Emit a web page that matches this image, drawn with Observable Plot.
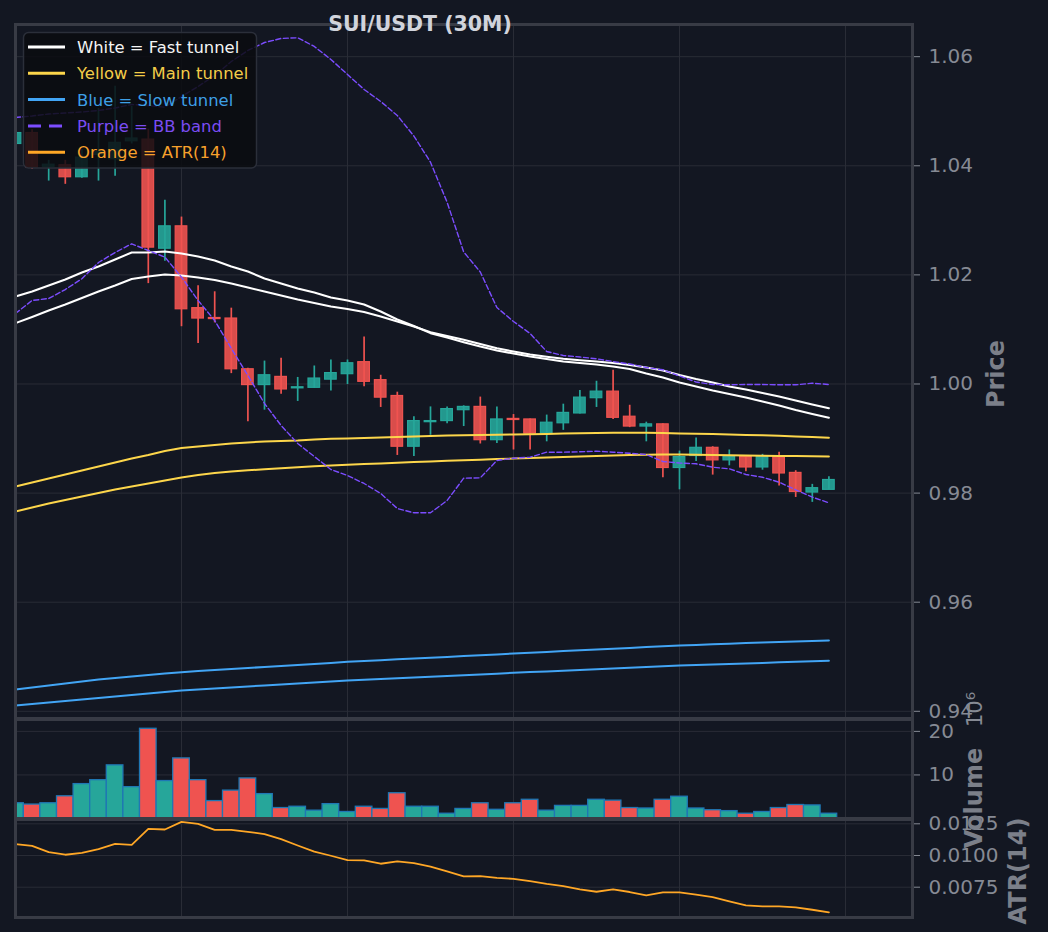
<!DOCTYPE html>
<html><head><meta charset="utf-8">
<script src="https://cdn.jsdelivr.net/npm/d3@7"></script>
<script src="https://cdn.jsdelivr.net/npm/@observablehq/plot@0.6"></script>
<style>
html,body{margin:0;padding:0;background:#131722;}
#chart{position:relative;width:1048px;height:932px;overflow:hidden;font-family:"DejaVu Sans",sans-serif;}
#chart svg{position:absolute;left:0;top:0;}
</style></head><body><div id="chart"></div>
<script>
// ---------- data ----------
const openP  = [1.0440,1.0460,1.0398,1.0401,1.0379,1.0420,1.0412,1.0445,1.0448,1.0248,1.0289,1.0139,1.0121,1.0120,1.0027,0.9998,1.0013,0.9992,0.9993,1.0008,1.0018,1.0040,1.0007,0.9978,0.9885,0.9930,0.9932,0.9952,0.9958,0.9897,0.9936,0.9935,0.9909,0.9928,0.9946,0.9974,0.9986,0.9940,0.9922,0.9926,0.9846,0.9868,0.9883,0.9860,0.9866,0.9847,0.9866,0.9837,0.9801,0.9806];
const highP  = [1.0465,1.0466,1.0410,1.0410,1.0430,1.0505,1.0546,1.0509,1.0467,1.0337,1.0306,1.0180,1.0169,1.0139,1.0029,1.0042,1.0047,1.0012,1.0033,1.0044,1.0044,1.0086,1.0016,0.9985,0.9940,0.9958,0.9958,0.9960,0.9976,0.9958,0.9944,0.9936,0.9943,0.9963,0.9988,1.0005,1.0025,0.9961,0.9930,0.9927,0.9877,0.9901,0.9885,0.9879,0.9867,0.9871,0.9875,0.9841,0.9816,0.9830];
const lowP   = [1.0436,1.0393,1.0372,1.0366,1.0377,1.0372,1.0381,1.0440,1.0184,1.0225,1.0105,1.0074,1.0112,1.0019,0.9931,0.9952,0.9981,0.9968,0.9992,0.9987,0.9999,0.9995,0.9957,0.9869,0.9867,0.9906,0.9927,0.9922,0.9890,0.9891,0.9879,0.9879,0.9894,0.9915,0.9945,0.9957,0.9935,0.9920,0.9894,0.9828,0.9806,0.9858,0.9833,0.9850,0.9839,0.9842,0.9813,0.9792,0.9783,0.9806];
const closeP = [1.0460,1.0397,1.0402,1.0379,1.0415,1.0425,1.0442,1.0450,1.0250,1.0289,1.0137,1.0120,1.0119,1.0027,0.9998,1.0016,0.9990,0.9994,1.0010,1.0020,1.0038,1.0004,0.9975,0.9885,0.9932,0.9932,0.9954,0.9958,0.9897,0.9935,0.9934,0.9909,0.9929,0.9947,0.9975,0.9986,0.9938,0.9922,0.9926,0.9846,0.9866,0.9883,0.9860,0.9867,0.9847,0.9866,0.9836,0.9802,0.9809,0.9824];
const volumeM = [3.5,3.2,3.5,5.1,7.9,8.8,12.2,7.2,20.6,8.6,13.8,8.8,4.0,6.4,9.2,5.6,2.4,2.7,1.8,3.3,1.5,2.7,2.2,5.8,2.7,2.7,1.1,2.2,3.5,2.0,3.5,4.3,1.8,2.9,2.9,4.3,4.1,2.4,2.3,4.3,5.0,2.3,1.9,1.7,1.1,1.5,2.4,3.1,3.0,1.1];
const atr14 = [0.01090,0.01076,0.01027,0.01006,0.01021,0.01050,0.01092,0.01084,0.01210,0.01205,0.01265,0.01250,0.01202,0.01202,0.01187,0.01169,0.01129,0.01079,0.01031,0.00998,0.00964,0.00961,0.00935,0.00953,0.00940,0.00913,0.00874,0.00835,0.00838,0.00824,0.00816,0.00798,0.00777,0.00759,0.00732,0.00714,0.00732,0.00712,0.00685,0.00709,0.00709,0.00691,0.00672,0.00638,0.00606,0.00598,0.00598,0.00591,0.00572,0.00551];
const fastA = [1.01604,1.01696,1.01806,1.01916,1.02044,1.02154,1.02282,1.02411,1.02411,1.02429,1.02392,1.02337,1.02264,1.02154,1.02062,1.01934,1.01842,1.01751,1.01677,1.01586,1.01531,1.01457,1.01329,1.01182,1.01063,1.00931,1.00852,1.00766,1.00687,1.00614,1.00559,1.00504,1.00458,1.00412,1.00385,1.00357,1.00321,1.00275,1.00192,1.00119,1.00027,0.99954,0.99881,0.99817,0.99753,0.99679,0.99606,0.99523,0.99450,0.99380];
const fastB = [1.01115,1.01228,1.01347,1.01457,1.01577,1.01696,1.01806,1.01925,1.01971,1.02007,1.01989,1.01952,1.01907,1.01842,1.01769,1.01696,1.01622,1.01549,1.01485,1.01421,1.01375,1.01320,1.01237,1.01146,1.01054,1.00950,1.00880,1.00810,1.00733,1.00656,1.00596,1.00541,1.00499,1.00462,1.00434,1.00412,1.00385,1.00348,1.00302,1.00247,1.00165,1.00092,1.00027,0.99954,0.99899,0.99835,0.99771,0.99698,0.99624,0.99556];
const mainA = [0.98121,0.98194,0.98268,0.98341,0.98414,0.98488,0.98561,0.98634,0.98698,0.98772,0.98827,0.98854,0.98882,0.98909,0.98928,0.98946,0.98955,0.98964,0.98983,0.98995,0.99001,0.99010,0.99019,0.99028,0.99038,0.99047,0.99056,0.99060,0.99065,0.99071,0.99074,0.99080,0.99085,0.99091,0.99096,0.99100,0.99104,0.99105,0.99104,0.99100,0.99094,0.99089,0.99082,0.99074,0.99067,0.99060,0.99050,0.99039,0.99028,0.99014];
const mainB = [0.97663,0.97736,0.97809,0.97873,0.97938,0.98002,0.98066,0.98121,0.98176,0.98231,0.98286,0.98332,0.98368,0.98396,0.98418,0.98438,0.98456,0.98475,0.98491,0.98506,0.98519,0.98532,0.98543,0.98555,0.98568,0.98579,0.98592,0.98601,0.98612,0.98623,0.98634,0.98643,0.98653,0.98662,0.98671,0.98680,0.98689,0.98698,0.98704,0.98708,0.98708,0.98704,0.98698,0.98693,0.98689,0.98686,0.98682,0.98678,0.98675,0.98671];
const slowA = [0.94400,0.94436,0.94473,0.94510,0.94546,0.94583,0.94610,0.94638,0.94665,0.94693,0.94717,0.94739,0.94757,0.94775,0.94794,0.94812,0.94830,0.94849,0.94867,0.94887,0.94907,0.94922,0.94937,0.94953,0.94968,0.94983,0.94997,0.95012,0.95027,0.95041,0.95060,0.95074,0.95089,0.95104,0.95118,0.95133,0.95148,0.95162,0.95177,0.95192,0.95206,0.95217,0.95228,0.95239,0.95250,0.95261,0.95272,0.95281,0.95290,0.95298];
const slowB = [0.94106,0.94134,0.94161,0.94189,0.94216,0.94244,0.94271,0.94299,0.94326,0.94354,0.94381,0.94400,0.94418,0.94436,0.94455,0.94473,0.94491,0.94510,0.94528,0.94546,0.94565,0.94579,0.94594,0.94607,0.94620,0.94634,0.94647,0.94662,0.94675,0.94689,0.94706,0.94719,0.94731,0.94744,0.94757,0.94770,0.94784,0.94797,0.94810,0.94825,0.94840,0.94849,0.94858,0.94867,0.94876,0.94887,0.94898,0.94907,0.94917,0.94926];
const bbUpper = [1.04885,1.04913,1.04950,1.04968,1.04986,1.05014,1.05060,1.05124,1.05105,1.05074,1.05270,1.05454,1.05655,1.05912,1.06114,1.06260,1.06334,1.06347,1.06187,1.05949,1.05674,1.05399,1.05179,1.04922,1.04546,1.04066,1.03333,1.02420,1.02053,1.01402,1.01146,1.00926,1.00596,1.00522,1.00495,1.00462,1.00412,1.00367,1.00302,1.00260,1.00147,1.00037,0.99991,0.99985,0.99991,0.99991,0.99985,0.99985,1.00015,0.99991];
const bbLower = [1.01292,1.01531,1.01567,1.01732,1.01929,1.02227,1.02411,1.02570,1.02447,1.02325,1.01958,1.01531,1.01164,1.00651,1.00156,0.99643,0.99239,0.98909,0.98671,0.98433,0.98323,0.98176,0.97993,0.97718,0.97639,0.97639,0.97864,0.98273,0.98280,0.98598,0.98640,0.98658,0.98750,0.98750,0.98757,0.98768,0.98750,0.98731,0.98708,0.98579,0.98552,0.98537,0.98475,0.98445,0.98341,0.98291,0.98200,0.98060,0.97925,0.97822];

const xTicks = [10, 20, 30, 40, 50];
const priceTicks = [0.94, 0.96, 0.98, 1.00, 1.02, 1.04, 1.06];
const volumeTicks = [10, 20];
const atrTicks = [0.0075, 0.0100, 0.0125];

const legendLabels = ["White = Fast tunnel", "Yellow = Main tunnel", "Blue = Slow tunnel", "Purple = BB band", "Orange = ATR(14)"];

// ---------- style ----------
const UP = "#26a69a", DOWN = "#ef5350";
const WHITE = "#ffffff", YELLOW = "#fdd64b", BLUE = "#42a5f5", PURPLE = "#7c4dff", ORANGE = "#ffa726";
const GRID = "#292c36", FRAME = "#383b45", TXT = "#868a94";
const legendLine = [WHITE, YELLOW, BLUE, PURPLE, ORANGE];
const legendText = ["#f4f4f4", "#f3cc48", "#3e9fe6", "#7a4cf2", "#f7a12c"];

const rows = openP.map((o, i) => ({
  i, open: o, high: highP[i], low: lowP[i], close: closeP[i], vol: volumeM[i], atr: atr14[i],
  fa: fastA[i], fb: fastB[i], ma: mainA[i], mb: mainB[i], sa: slowA[i], sb: slowB[i], bu: bbUpper[i], bl: bbLower[i]
}));
const cc = d => d.close >= d.open ? UP : DOWN;

const W = 1048, H = 932;
const L = 15, R = 912;
const X = {domain: [0, (R - L) / 16.6], axis: null};
const baseStyle = {position: "absolute", left: "0px", top: "0px", background: "transparent", color: TXT,
  fontFamily: "DejaVu Sans, sans-serif", fontSize: "20px", overflow: "visible"};
const axisOpts = (ticks, fmt) => Plot.axisY({ticks, anchor: "right", tickSize: 7, tickPadding: 9, tickFormat: fmt, fontSize: 20, label: null});

const chart = document.getElementById("chart");

// price panel (24 .. 718)
const price = Plot.plot({
  width: W, height: H, marginLeft: L, marginRight: W - R, marginTop: 24, marginBottom: H - 718,
  style: baseStyle, color: {type: "identity"},
  x: X, y: {domain: [0.93868, 1.06590], axis: null},
  marks: [
    Plot.gridY(priceTicks, {stroke: GRID, strokeOpacity: 1}),
    Plot.gridX(xTicks, {stroke: GRID, strokeOpacity: 1}),
    Plot.ruleX(rows, {x: "i", y1: "low", y2: "high", stroke: cc, strokeWidth: 1.7, clip: true}),
    Plot.rect(rows, {x1: d => d.i - 0.35, x2: d => d.i + 0.35, y1: "open", y2: "close", fill: cc, stroke: cc, strokeWidth: 1.2, fillOpacity: 0.9, clip: true}),
    Plot.line(rows, {x: "i", y: "sa", stroke: BLUE, strokeWidth: 2, clip: true}),
    Plot.line(rows, {x: "i", y: "sb", stroke: BLUE, strokeWidth: 2, clip: true}),
    Plot.line(rows, {x: "i", y: "ma", stroke: YELLOW, strokeWidth: 2, clip: true}),
    Plot.line(rows, {x: "i", y: "mb", stroke: YELLOW, strokeWidth: 2, clip: true}),
    Plot.line(rows, {x: "i", y: "fa", stroke: WHITE, strokeWidth: 2, clip: true}),
    Plot.line(rows, {x: "i", y: "fb", stroke: WHITE, strokeWidth: 2, clip: true}),
    Plot.line(rows, {x: "i", y: "bu", stroke: PURPLE, strokeWidth: 1.4, strokeDasharray: "5,2.6", clip: true}),
    Plot.line(rows, {x: "i", y: "bl", stroke: PURPLE, strokeWidth: 1.4, strokeDasharray: "5,2.6", clip: true}),
    axisOpts(priceTicks, d3.format(".2f")),
    Plot.frame({stroke: FRAME, strokeWidth: 3})
  ]
});
chart.appendChild(price);

// volume panel (719 .. 818)
const vol = Plot.plot({
  width: W, height: H, marginLeft: L, marginRight: W - R, marginTop: 719, marginBottom: H - 818,
  style: baseStyle, color: {type: "identity"},
  x: X, y: {domain: [0, 22.73], axis: null},
  marks: [
    Plot.gridY(volumeTicks, {stroke: GRID, strokeOpacity: 1}),
    Plot.gridX(xTicks, {stroke: GRID, strokeOpacity: 1}),
    Plot.rectY(rows, {x1: d => d.i - 0.5, x2: d => d.i + 0.5, y: "vol", fill: cc, stroke: "#1f77b4", strokeWidth: 1.3, clip: true}),
    axisOpts(volumeTicks, d => String(d)),
    Plot.frame({stroke: FRAME, strokeWidth: 3})
  ]
});
chart.appendChild(vol);

// ATR panel (819 .. 917)
const atrPlot = Plot.plot({
  width: W, height: H, marginLeft: L, marginRight: W - R, marginTop: 819, marginBottom: H - 917,
  style: baseStyle,
  x: X, y: {domain: [0.005110, 0.012839], axis: null},
  marks: [
    Plot.gridY(atrTicks, {stroke: GRID, strokeOpacity: 1}),
    Plot.gridX(xTicks, {stroke: GRID, strokeOpacity: 1}),
    Plot.line(rows, {x: "i", y: "atr", stroke: ORANGE, strokeWidth: 1.8, clip: true}),
    axisOpts(atrTicks, d3.format(".4f")),
    Plot.frame({stroke: FRAME, strokeWidth: 3})
  ]
});
chart.appendChild(atrPlot);

// ---------- overlay: title, axis labels, legend ----------
const ns = "http://www.w3.org/2000/svg";
const ov = d3.select(chart).append("svg").attr("width", W).attr("height", H)
  .style("font-family", "DejaVu Sans, sans-serif");
ov.append("text").attr("x", 420).attr("y", 31).attr("text-anchor", "middle")
  .attr("font-size", 20.5).attr("font-weight", "bold").attr("fill", "#d1d4dc").text("SUI/USDT (30M)");
const vlab = (x, y, t, anchor) => ov.append("text").attr("transform", `translate(${x},${y}) rotate(-90)`)
  .attr("text-anchor", anchor).attr("font-size", 24).attr("font-weight", "bold").attr("fill", "#7b7f89").text(t);
vlab(1004, 374, "Price", "middle");
vlab(982, 798, "Volume", "middle");
vlab(1026, 871, "ATR(14)", "middle");
ov.append("text").attr("transform", "translate(982,727) rotate(-90)").attr("text-anchor", "start")
  .attr("font-size", 21).attr("fill", TXT).text("10⁶");

const lg = ov.append("g");
lg.append("rect").attr("x", 23.5).attr("y", 32.5).attr("width", 233).attr("height", 135.5).attr("rx", 5)
  .attr("fill", "#0a0c10").attr("fill-opacity", 0.86).attr("stroke", "#2b2f3a").attr("stroke-width", 1.5);
legendLabels.forEach((t, k) => {
  const cy = 47 + k * 26.3;
  lg.append("line").attr("x1", 28).attr("x2", 65).attr("y1", cy).attr("y2", cy)
    .attr("stroke", legendLine[k]).attr("stroke-width", 3)
    .attr("stroke-dasharray", k === 3 ? "13,8" : null);
  lg.append("text").attr("x", 77).attr("y", cy + 6).attr("font-size", 16.4).attr("fill", legendText[k]).text(t);
});
</script></body></html>
